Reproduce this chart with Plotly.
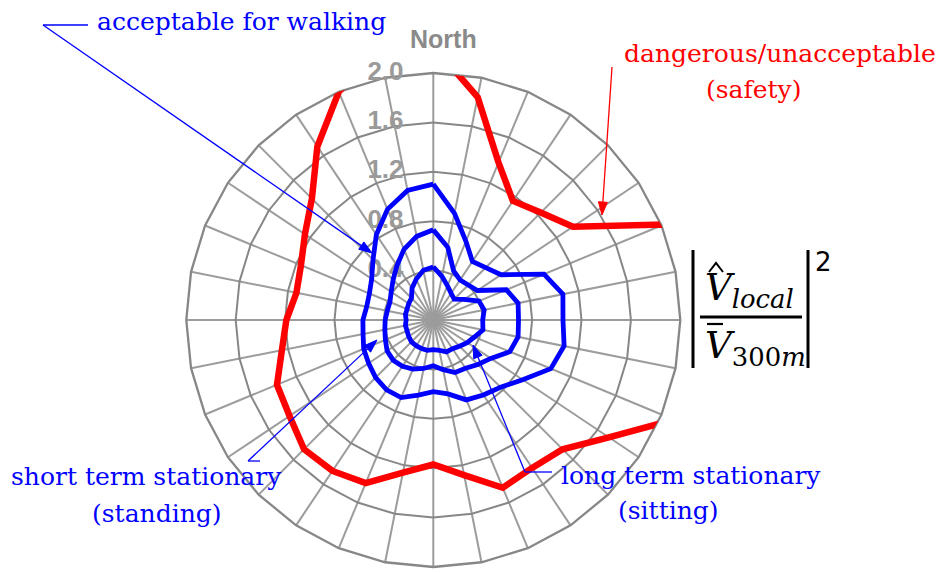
import math
import plotly.graph_objects as go

W, H = 949, 573
OFF = 8  # the page body margin shifts the figure by 8 px

# 32-point compass directions (clockwise from North)
directions = ['N', 'NbE', 'NNE', 'NEbN', 'NE', 'NEbE', 'ENE', 'EbN',
              'E', 'EbS', 'ESE', 'SEbE', 'SE', 'SEbS', 'SSE', 'SbE',
              'S', 'SbW', 'SSW', 'SWbS', 'SW', 'SWbW', 'WSW', 'WbS',
              'W', 'WbN', 'WNW', 'NWbW', 'NW', 'NWbN', 'NNW', 'NbW']

dangerous = [2.22, 1.84, 1.38, 1.16, 1.23, 1.36, 2.02, 2.25,
             2.30, 2.20, 2.11, 1.71, 1.48, 1.44, 1.47, 1.28,
             1.17, 1.26, 1.43, 1.47, 1.48, 1.40, 1.37, 1.25,
             1.19, 1.13, 1.16, 1.25, 1.39, 1.69, 2.00, 2.22]

walking = [1.10, 0.88, 0.69, 0.57, 0.60, 0.66, 0.97, 1.07,
           1.05, 1.08, 1.03, 0.87, 0.77, 0.73, 0.70, 0.61,
           0.58, 0.62, 0.68, 0.68, 0.66, 0.63, 0.61, 0.58,
           0.57, 0.55, 0.56, 0.60, 0.69, 0.83, 0.97, 1.07]

standing = [0.73, 0.60, 0.43, 0.39, 0.40, 0.43, 0.64, 0.70,
            0.69, 0.70, 0.67, 0.56, 0.51, 0.47, 0.46, 0.41,
            0.37, 0.40, 0.43, 0.45, 0.46, 0.45, 0.42, 0.40,
            0.39, 0.38, 0.38, 0.41, 0.46, 0.53, 0.62, 0.69]

sitting = [0.43, 0.36, 0.30, 0.26, 0.24, 0.30, 0.40, 0.42,
           0.40, 0.41, 0.36, 0.33, 0.30, 0.28, 0.28, 0.25,
           0.24, 0.25, 0.25, 0.25, 0.25, 0.24, 0.23, 0.23,
           0.22, 0.23, 0.23, 0.24, 0.25, 0.31, 0.36, 0.41]

radial_ticks = [0.0, 0.4, 0.8, 1.2, 1.6, 2.0]
radial_labels = ['0.0', '0.4', '0.8', '1.2', '1.6', '2.0']


def px(x):
    return (x - OFF) / W


def py(y):
    return 1 - (y - OFF) / H


def closed(vals):
    return list(vals) + [vals[0]], directions + [directions[0]]


fig = go.Figure()

# radial tick labels drawn along the North spoke
fig.add_trace(go.Scatterpolar(
    r=radial_ticks, theta=['N'] * len(radial_ticks),
    mode='markers+text', text=['<b>%s</b>' % t for t in radial_labels],
    textposition='middle left', cliponaxis=False,
    marker=dict(size=46, opacity=0),
    textfont=dict(size=26, color='#9a9a9a', family='Liberation Sans'),
    hoverinfo='skip', showlegend=False))

for vals, color, width in [(sitting, '#0000ff', 4.8), (standing, '#0000ff', 4.8),
                           (walking, '#0000ff', 4.8), (dangerous, '#ff0000', 6.5)]:
    r, th = closed(vals)
    fig.add_trace(go.Scatterpolar(r=r, theta=th, mode='lines',
                                  line=dict(color=color, width=width),
                                  showlegend=False, hoverinfo='skip'))

CX, CY, R = 433.3, 320, 247
fig.update_layout(
    width=W, height=H, margin=dict(l=0, r=0, t=0, b=0),
    paper_bgcolor='white', showlegend=False,
    polar=dict(
        domain=dict(x=[px(CX - R), px(CX + R)], y=[py(CY + R), py(CY - R)]),
        bgcolor='white', gridshape='linear',
        radialaxis=dict(range=[0, 2.0], tickvals=radial_ticks, showticklabels=False,
                        ticks='', showline=False, gridcolor='#878787', gridwidth=2.3,
                        layer='below traces'),
        angularaxis=dict(type='category', categoryarray=directions,
                         direction='clockwise', rotation=90,
                         tickmode='array', tickvals=directions,
                         showticklabels=False,
                         ticks='', showline=True, linecolor='#878787', linewidth=2.3,
                         gridcolor='#9c9c9c', gridwidth=1.5, layer='below traces'),
    ),
)

serif = 'DejaVu Serif'
blue = '#0000ff'
red = '#ff0000'

texts = [
    ('acceptable for walking', 241, 21, blue),
    ('dangerous/unacceptable', 780, 53, red),
    ('(safety)', 753, 90, red),
    ('short term stationary', 146, 476, blue),
    ('(standing)', 157, 513, blue),
    ('long term stationary', 691, 475, blue),
    ('(sitting)', 668, 510, blue),
]
annotations = []
for t, x, y, c in texts:
    annotations.append(dict(text=t, x=px(x), y=py(y), xref='paper', yref='paper',
                            xanchor='center', yanchor='middle', showarrow=False,
                            font=dict(family=serif, size=25, color=c)))

annotations.append(dict(text='<b>North</b>', x=px(443), y=py(39), xref='paper', yref='paper',
                        xanchor='center', yanchor='middle', showarrow=False,
                        font=dict(family='Liberation Sans', size=25, color='#8a8a8a')))

shapes = []


def seg(x0, y0, x1, y1, color, width):
    shapes.append(dict(type='line', xref='paper', yref='paper',
                       x0=px(x0), y0=py(y0), x1=px(x1), y1=py(y1),
                       line=dict(color=color, width=width)))


def arrow(tx, ty, hx, hy, color):
    L, hw = 13.0, 4.5
    d = math.hypot(hx - tx, hy - ty)
    ux, uy = (hx - tx) / d, (hy - ty) / d
    bx, by = hx - ux * L, hy - uy * L
    seg(tx, ty, bx, by, color, 1.3)
    p1 = (bx - uy * hw, by + ux * hw)
    p2 = (bx + uy * hw, by - ux * hw)
    shapes.append(dict(type='path', xref='paper', yref='paper',
                       path='M %f,%f L %f,%f L %f,%f Z' % (px(hx), py(hy), px(p1[0]), py(p1[1]),
                                                           px(p2[0]), py(p2[1])),
                       fillcolor=color, line=dict(color=color, width=1)))


arrow(43, 25, 372, 253, blue)
arrow(612, 67, 602, 215, red)
arrow(248, 461, 377, 340, blue)
arrow(525, 472, 473, 345, blue)
seg(43, 25, 88, 25, blue, 1.3)
seg(248, 461, 260, 461, blue, 1.3)
seg(525, 472, 552, 472, blue, 1.3)

# formula |V̂_local / V̄_300m|^2
annotations.append(dict(text='<i>V</i><sub><i>local</i></sub>', x=px(703), y=py(290),
                        xref='paper', yref='paper', xanchor='left', yanchor='middle',
                        showarrow=False, font=dict(family=serif, size=37, color='black')))
annotations.append(dict(text='<i>V</i><sub>300<i>m</i></sub>', x=px(703), y=py(348),
                        xref='paper', yref='paper', xanchor='left', yanchor='middle',
                        showarrow=False, font=dict(family=serif, size=37, color='black')))
annotations.append(dict(text='2', x=px(823), y=py(262), xref='paper', yref='paper',
                        xanchor='center', yanchor='middle', showarrow=False,
                        font=dict(family='DejaVu Sans', size=26, color='black')))

seg(693, 250, 693, 368, 'black', 3)
seg(808, 250, 808, 368, 'black', 3)
seg(700, 317, 802, 317, 'black', 3)
seg(707, 324, 723, 324, 'black', 2.2)
shapes.append(dict(type='path', xref='paper', yref='paper',
                   path='M %f,%f L %f,%f L %f,%f' % (px(709), py(272), px(716), py(263), px(723), py(272)),
                   line=dict(color='black', width=2)))

fig.update_layout(annotations=annotations, shapes=shapes)
fig.write_html('out.html')
